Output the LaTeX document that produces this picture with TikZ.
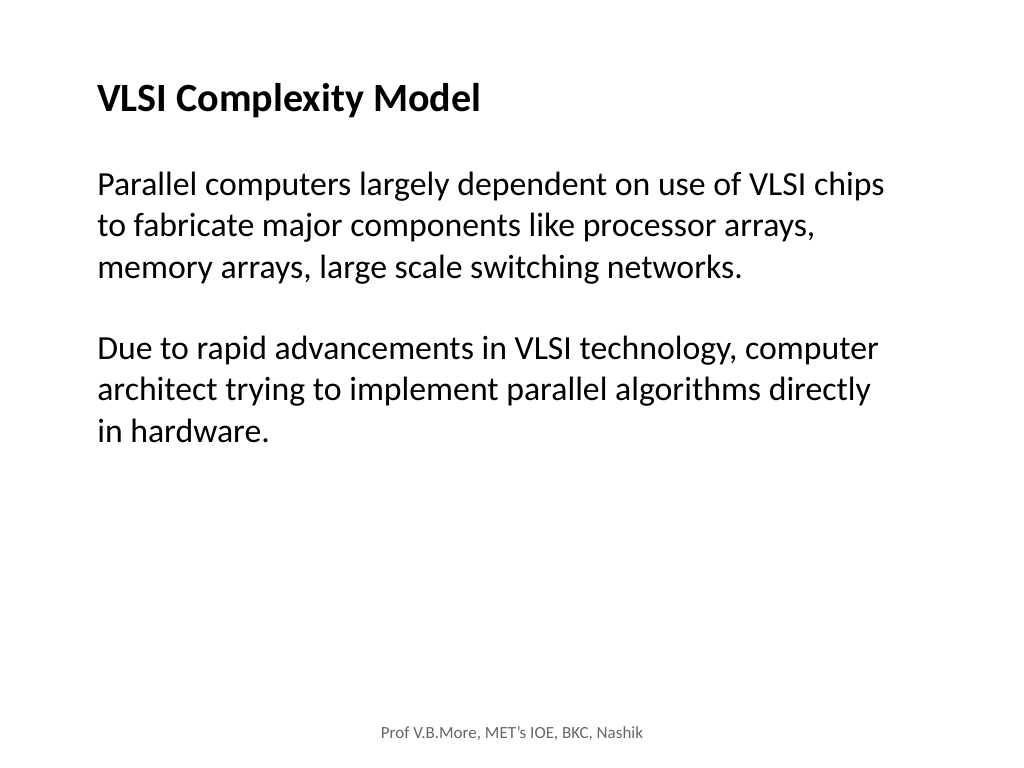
\documentclass[tikz,border=0pt]{standalone}
\usepackage{fontspec}
\setmainfont{Carlito}
\begin{document}
\begin{tikzpicture}[x=0.025cm,y=-0.025cm]
    \tikzstyle{title}=[anchor=base west,inner sep=0pt,font=\fontsize{28.5}{34}\selectfont\bfseries]
    \tikzstyle{para}=[anchor=base west,inner sep=0pt,align=left,font=\fontsize{24}{29.2}\selectfont]
    \tikzstyle{footer}=[anchor=base,inner sep=0pt,font=\fontsize{12.1}{14}\selectfont,text=black!60]
    \useasboundingbox[fill=white] (0,0) rectangle (1024,768);

    \node[title] (heading) at (97,112) {VLSI Complexity Model};

    % base anchor sits on the last line
    \node[para] (chips) at (97,278) {
      Parallel computers largely dependent on use of VLSI chips\\
      to fabricate major components like processor arrays,\\
      memory arrays, large scale switching networks.
    };

    \node[para] (tech) at (97,442) {
      Due to rapid advancements in VLSI technology, computer\\
      architect trying to implement parallel algorithms directly\\
      in hardware.
    };

    \node[footer] (credit) at (512,738) {Prof V.B.More, MET's IOE, BKC, Nashik};
\end{tikzpicture}
\end{document}
